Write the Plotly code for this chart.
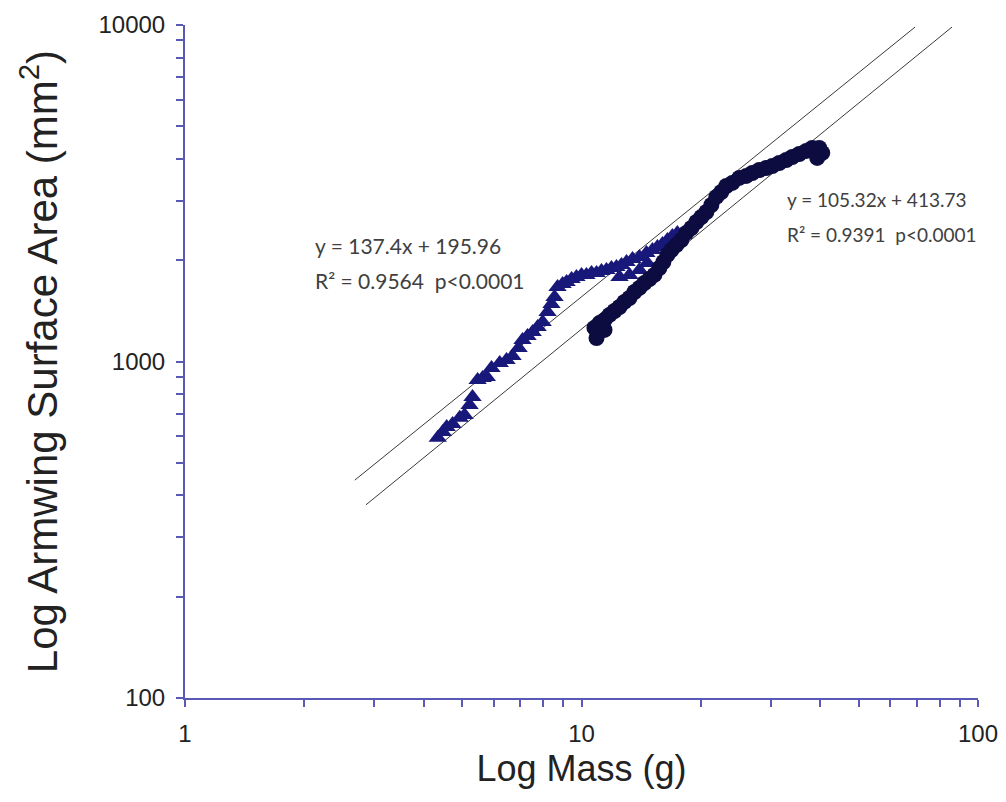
import plotly.graph_objects as go

# Series 1 (triangles)
tri_mass = [4.34, 4.47, 4.57, 4.73, 4.93, 5.07, 5.22, 5.31, 5.47, 5.63, 5.77, 5.93,
            6.22, 6.47, 6.70, 6.94, 7.10, 7.31, 7.53, 7.75, 7.98, 8.21, 8.40, 8.55,
            8.70, 8.96, 9.17, 9.44, 9.71, 10.0, 10.29, 10.60, 10.91, 11.23, 11.56,
            11.90, 12.25, 12.61, 12.99, 13.45, 14.00, 14.58, 15.10, 15.54, 16.00,
            16.47, 16.95, 17.45, 12.47, 13.21, 14.00, 14.66]
tri_area = [593, 617, 639, 652, 680, 693, 743, 784, 881, 893, 900, 957,
            990, 1010, 1038, 1097, 1158, 1191, 1224, 1266, 1310, 1403, 1482, 1555,
            1665, 1699, 1723, 1759, 1783, 1808, 1808, 1832, 1832, 1857, 1870,
            1896, 1909, 1936, 1976, 2017, 2045, 2101, 2145, 2189, 2235,
            2297, 2361, 2410, 1783, 1808, 1870, 1962]

# Series 2 (circles)
cir_mass = [10.91, 10.78, 11.10, 11.43, 11.43, 11.77, 12.11, 12.47, 12.83, 13.21, 13.60,
            14.00, 14.41, 14.84, 15.27, 15.72, 16.09, 16.47, 16.86, 17.35, 17.86,
            18.38, 18.93, 19.49, 20.06, 20.65, 21.26, 21.88, 22.52, 23.19, 24.01,
            25.00, 26.04, 26.96, 28.08, 29.24, 30.28, 31.53, 32.84, 34.00, 35.41,
            36.88, 38.19, 39.77, 40.47, 39.31]
cir_area = [1174, 1258, 1301, 1241, 1328, 1375, 1413, 1452, 1503, 1544, 1609,
            1654, 1711, 1759, 1808, 1896, 1976, 2073, 2145, 2219, 2297,
            2410, 2493, 2598, 2688, 2782, 2918, 3083, 3189, 3323, 3393,
            3511, 3560, 3633, 3708, 3758, 3811, 3890, 3971, 4053, 4137,
            4224, 4311, 4311, 4166, 4026]

# Fit lines (endpoints)
fit1_mass = [2.68, 69.4]
fit1_area = [444, 9863]
fit2_mass = [2.86, 86.0]
fit2_area = [375, 9863]

eq1 = ["y = 137.4x + 195.96", "R\u00b2 = 0.9564  p<0.0001"]
eq2 = ["y = 105.32x + 413.73", "R\u00b2 = 0.9391  p<0.0001"]

fig = go.Figure()
fig.add_trace(go.Scatter(x=fit1_mass, y=fit1_area, mode="lines",
                         line=dict(color="#3a3a3a", width=1), showlegend=False))
fig.add_trace(go.Scatter(x=fit2_mass, y=fit2_area, mode="lines",
                         line=dict(color="#3a3a3a", width=1), showlegend=False))
fig.add_trace(go.Scatter(x=tri_mass, y=tri_area, mode="markers",
                         marker=dict(symbol="triangle-up", size=16, color="#18187a"),
                         showlegend=False))
fig.add_trace(go.Scatter(x=cir_mass, y=cir_area, mode="markers",
                         marker=dict(symbol="circle", size=16, color="#0c0c40"),
                         showlegend=False))

axis_col = "#5a5ab6"
font_main = "Liberation Sans, Arial, sans-serif"
fig.update_xaxes(type="log", range=[0, 2], showgrid=False, zeroline=False, automargin=False,
                 showline=True, linecolor=axis_col, linewidth=2,
                 ticks="outside", ticklen=7, tickcolor=axis_col, tickwidth=1.5,
                 tickvals=[1, 10, 100], ticktext=["1", "10", "100"],
                 ticklabelstandoff=6,
                 minor=dict(ticks="outside", ticklen=7, tickcolor=axis_col, tickwidth=1.5,
                            tickvals=[2, 3, 4, 5, 6, 7, 8, 9, 20, 30, 40, 50, 60, 70, 80, 90]),
                 tickfont=dict(family=font_main, size=24, color="#222"),
                 title=dict(text="Log Mass (g)", font=dict(family=font_main, size=36, color="#222"),
                            standoff=10))
fig.update_yaxes(type="log", range=[2, 4], showgrid=False, zeroline=False, automargin=False,
                 showline=True, linecolor=axis_col, linewidth=2,
                 ticks="outside", ticklen=7, tickcolor=axis_col, tickwidth=1.5,
                 tickvals=[100, 1000, 10000], ticktext=["100", "1000", "10000"],
                 ticklabelstandoff=6,
                 minor=dict(ticks="outside", ticklen=7, tickcolor=axis_col, tickwidth=1.5,
                            tickvals=[200, 300, 400, 500, 600, 700, 800, 900,
                                      2000, 3000, 4000, 5000, 6000, 7000, 8000, 9000]),
                 tickfont=dict(family=font_main, size=24, color="#222"),
                 title=dict(text="Log Armwing Surface Area (mm<sup>2</sup>)",
                            font=dict(family=font_main, size=42, color="#222"), standoff=28))

ann_font1 = dict(family="Lato, Open Sans, sans-serif", size=21, color="#404040")
ann_font2 = dict(family="Lato, Open Sans, sans-serif", size=19, color="#404040")
fig.add_annotation(xref="paper", yref="paper", x=0.161, y=0.673, text=eq1[0],
                   showarrow=False, xanchor="left", yanchor="middle", font=ann_font1)
fig.add_annotation(xref="paper", yref="paper", x=0.161, y=0.620, text=eq1[1],
                   showarrow=False, xanchor="left", yanchor="middle", font=ann_font1)
fig.add_annotation(xref="paper", yref="paper", x=0.757, y=0.740, text=eq2[0],
                   showarrow=False, xanchor="left", yanchor="middle", font=ann_font2)
fig.add_annotation(xref="paper", yref="paper", x=0.757, y=0.688, text=eq2[1],
                   showarrow=False, xanchor="left", yanchor="middle", font=ann_font2)

fig.update_layout(width=1006, height=802, plot_bgcolor="white", paper_bgcolor="white",
                  margin=dict(l=185, r=28, t=25, b=104))
fig.write_html("out.html")
